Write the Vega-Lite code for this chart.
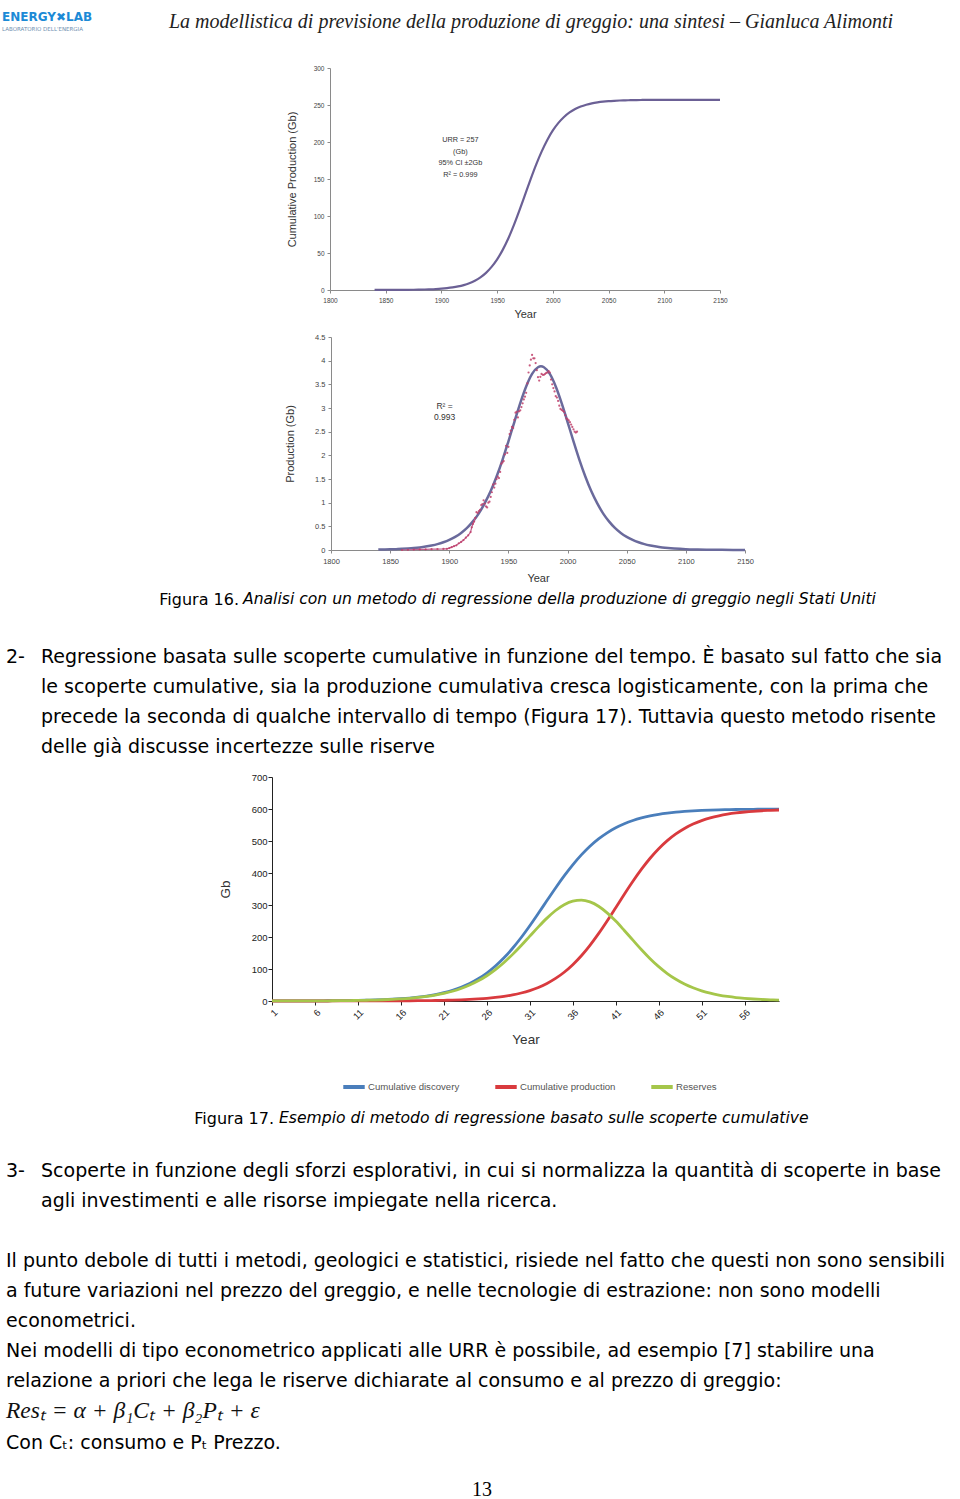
{
  "$schema": "https://vega.github.io/schema/vega-lite/v6.json",
  "background": "white",
  "padding": 0,
  "config": {
    "view": {"stroke": "transparent", "fill": "transparent"},
    "title": {"offset": 0, "frame": "group", "fontWeight": "normal", "color": "#000000"},
    "font": "Liberation Sans"
  },
  "datasets": {
    "cum": [
      {"year": 1840, "cum": 0.04}, {"year": 1845, "cum": 0.05}, {"year": 1850, "cum": 0.07}, {"year": 1855, "cum": 0.09},
      {"year": 1860, "cum": 0.13}, {"year": 1865, "cum": 0.18}, {"year": 1870, "cum": 0.25}, {"year": 1875, "cum": 0.35},
      {"year": 1880, "cum": 0.49}, {"year": 1885, "cum": 0.68}, {"year": 1890, "cum": 0.94}, {"year": 1895, "cum": 1.3},
      {"year": 1900, "cum": 1.81}, {"year": 1905, "cum": 2.51}, {"year": 1910, "cum": 3.47}, {"year": 1915, "cum": 4.8},
      {"year": 1920, "cum": 6.64}, {"year": 1925, "cum": 9.15}, {"year": 1930, "cum": 12.5}, {"year": 1935, "cum": 17.1},
      {"year": 1940, "cum": 23.2}, {"year": 1945, "cum": 31.2}, {"year": 1950, "cum": 41.4}, {"year": 1955, "cum": 54.2},
      {"year": 1960, "cum": 69.6}, {"year": 1965, "cum": 87.6}, {"year": 1970, "cum": 107.5}, {"year": 1975, "cum": 128.5},
      {"year": 1980, "cum": 149.5}, {"year": 1985, "cum": 169.4}, {"year": 1990, "cum": 187.3}, {"year": 1995, "cum": 202.8},
      {"year": 2000, "cum": 215.6}, {"year": 2005, "cum": 225.8}, {"year": 2010, "cum": 233.8}, {"year": 2015, "cum": 239.9},
      {"year": 2020, "cum": 244.5}, {"year": 2025, "cum": 247.9}, {"year": 2030, "cum": 250.4}, {"year": 2035, "cum": 252.2},
      {"year": 2040, "cum": 253.5}, {"year": 2045, "cum": 254.5}, {"year": 2050, "cum": 255.2}, {"year": 2055, "cum": 255.7},
      {"year": 2060, "cum": 256.1}, {"year": 2065, "cum": 256.3}, {"year": 2070, "cum": 256.5}, {"year": 2075, "cum": 256.7},
      {"year": 2080, "cum": 256.8}, {"year": 2090, "cum": 256.9}, {"year": 2100, "cum": 256.9}, {"year": 2110, "cum": 257.0},
      {"year": 2125, "cum": 257.0}, {"year": 2150, "cum": 257.0}
    ],
    "fit": [
      {"year": 1840, "prod": 0.008}, {"year": 1845, "prod": 0.011}, {"year": 1850, "prod": 0.014}, {"year": 1855, "prod": 0.018},
      {"year": 1860, "prod": 0.024}, {"year": 1865, "prod": 0.032}, {"year": 1870, "prod": 0.042}, {"year": 1875, "prod": 0.055},
      {"year": 1880, "prod": 0.072}, {"year": 1885, "prod": 0.095}, {"year": 1890, "prod": 0.124}, {"year": 1895, "prod": 0.163},
      {"year": 1900, "prod": 0.213}, {"year": 1905, "prod": 0.278}, {"year": 1910, "prod": 0.361}, {"year": 1915, "prod": 0.468},
      {"year": 1920, "prod": 0.605}, {"year": 1925, "prod": 0.775}, {"year": 1930, "prod": 0.989}, {"year": 1935, "prod": 1.245},
      {"year": 1940, "prod": 1.554}, {"year": 1945, "prod": 1.905}, {"year": 1950, "prod": 2.297}, {"year": 1955, "prod": 2.704},
      {"year": 1960, "prod": 3.104}, {"year": 1965, "prod": 3.456}, {"year": 1970, "prod": 3.72}, {"year": 1975, "prod": 3.861},
      {"year": 1977.5, "prod": 3.88}, {"year": 1980, "prod": 3.861}, {"year": 1985, "prod": 3.72}, {"year": 1990, "prod": 3.456},
      {"year": 1995, "prod": 3.104}, {"year": 2000, "prod": 2.704}, {"year": 2005, "prod": 2.297}, {"year": 2010, "prod": 1.905},
      {"year": 2015, "prod": 1.554}, {"year": 2020, "prod": 1.245}, {"year": 2025, "prod": 0.989}, {"year": 2030, "prod": 0.775},
      {"year": 2035, "prod": 0.605}, {"year": 2040, "prod": 0.468}, {"year": 2045, "prod": 0.361}, {"year": 2050, "prod": 0.278},
      {"year": 2055, "prod": 0.213}, {"year": 2060, "prod": 0.163}, {"year": 2065, "prod": 0.124}, {"year": 2070, "prod": 0.095},
      {"year": 2075, "prod": 0.072}, {"year": 2080, "prod": 0.055}, {"year": 2085, "prod": 0.042}, {"year": 2090, "prod": 0.032},
      {"year": 2095, "prod": 0.024}, {"year": 2100, "prod": 0.018}, {"year": 2110, "prod": 0.011}, {"year": 2120, "prod": 0.006},
      {"year": 2130, "prod": 0.004}, {"year": 2140, "prod": 0.002}, {"year": 2150, "prod": 0.001}
    ],
    "obs": [
      {"year": 1860, "prod": 0.0}, {"year": 1865, "prod": 0.005}, {"year": 1870, "prod": 0.01}, {"year": 1875, "prod": 0.012},
      {"year": 1880, "prod": 0.015}, {"year": 1885, "prod": 0.018}, {"year": 1890, "prod": 0.02}, {"year": 1895, "prod": 0.022},
      {"year": 1898, "prod": 0.025}, {"year": 1900, "prod": 0.04}, {"year": 1902, "prod": 0.06}, {"year": 1904, "prod": 0.08},
      {"year": 1906, "prod": 0.1}, {"year": 1908, "prod": 0.14}, {"year": 1910, "prod": 0.17}, {"year": 1912, "prod": 0.21},
      {"year": 1914, "prod": 0.26}, {"year": 1916, "prod": 0.31}, {"year": 1918, "prod": 0.38}, {"year": 1919, "prod": 0.48},
      {"year": 1920, "prod": 0.55}, {"year": 1921, "prod": 0.6}, {"year": 1922, "prod": 0.68}, {"year": 1923, "prod": 0.8},
      {"year": 1924, "prod": 0.78}, {"year": 1925, "prod": 0.82}, {"year": 1926, "prod": 0.85}, {"year": 1927, "prod": 0.95},
      {"year": 1928, "prod": 0.97}, {"year": 1929, "prod": 1.05}, {"year": 1930, "prod": 0.98}, {"year": 1931, "prod": 0.92},
      {"year": 1932, "prod": 0.9}, {"year": 1933, "prod": 1.0}, {"year": 1934, "prod": 1.02}, {"year": 1935, "prod": 1.12},
      {"year": 1936, "prod": 1.22}, {"year": 1937, "prod": 1.38}, {"year": 1938, "prod": 1.32}, {"year": 1939, "prod": 1.4},
      {"year": 1940, "prod": 1.5}, {"year": 1941, "prod": 1.55}, {"year": 1942, "prod": 1.52}, {"year": 1943, "prod": 1.65},
      {"year": 1944, "prod": 1.82}, {"year": 1945, "prod": 1.85}, {"year": 1946, "prod": 1.88}, {"year": 1947, "prod": 2.02},
      {"year": 1948, "prod": 2.2}, {"year": 1949, "prod": 2.05}, {"year": 1950, "prod": 2.18}, {"year": 1951, "prod": 2.45},
      {"year": 1952, "prod": 2.52}, {"year": 1953, "prod": 2.6}, {"year": 1954, "prod": 2.58}, {"year": 1955, "prod": 2.75},
      {"year": 1956, "prod": 2.9}, {"year": 1957, "prod": 2.92}, {"year": 1958, "prod": 2.8}, {"year": 1959, "prod": 2.93},
      {"year": 1960, "prod": 2.95}, {"year": 1961, "prod": 3.02}, {"year": 1962, "prod": 3.1}, {"year": 1963, "prod": 3.18},
      {"year": 1964, "prod": 3.24}, {"year": 1965, "prod": 3.32}, {"year": 1966, "prod": 3.52}, {"year": 1967, "prod": 3.75},
      {"year": 1968, "prod": 3.9}, {"year": 1969, "prod": 4.02}, {"year": 1970, "prod": 4.12}, {"year": 1971, "prod": 4.05},
      {"year": 1972, "prod": 4.05}, {"year": 1973, "prod": 3.95}, {"year": 1974, "prod": 3.8}, {"year": 1975, "prod": 3.65},
      {"year": 1976, "prod": 3.58}, {"year": 1977, "prod": 3.66}, {"year": 1978, "prod": 3.72}, {"year": 1979, "prod": 3.7},
      {"year": 1980, "prod": 3.7}, {"year": 1981, "prod": 3.72}, {"year": 1982, "prod": 3.74}, {"year": 1983, "prod": 3.75},
      {"year": 1984, "prod": 3.78}, {"year": 1985, "prod": 3.75}, {"year": 1986, "prod": 3.6}, {"year": 1987, "prod": 3.5},
      {"year": 1988, "prod": 3.42}, {"year": 1989, "prod": 3.35}, {"year": 1990, "prod": 3.25}, {"year": 1991, "prod": 3.22},
      {"year": 1992, "prod": 3.15}, {"year": 1993, "prod": 3.05}, {"year": 1994, "prod": 2.98}, {"year": 1995, "prod": 2.96},
      {"year": 1996, "prod": 2.94}, {"year": 1997, "prod": 2.92}, {"year": 1998, "prod": 2.85}, {"year": 1999, "prod": 2.78},
      {"year": 2000, "prod": 2.76}, {"year": 2001, "prod": 2.74}, {"year": 2002, "prod": 2.7}, {"year": 2003, "prod": 2.65},
      {"year": 2004, "prod": 2.6}, {"year": 2005, "prod": 2.55}, {"year": 2006, "prod": 2.5}, {"year": 2007, "prod": 2.48},
      {"year": 2008, "prod": 2.5}
    ],
    "disc": [
      {"t": 1, "Cumulative discovery": 0.1, "Cumulative production": 0.0, "Reserves": 0.1},
      {"t": 2, "Cumulative discovery": 0.2, "Cumulative production": 0.0, "Reserves": 0.2},
      {"t": 3, "Cumulative discovery": 0.2, "Cumulative production": 0.0, "Reserves": 0.2},
      {"t": 4, "Cumulative discovery": 0.3, "Cumulative production": 0.0, "Reserves": 0.3},
      {"t": 5, "Cumulative discovery": 0.4, "Cumulative production": 0.0, "Reserves": 0.4},
      {"t": 6, "Cumulative discovery": 0.5, "Cumulative production": 0.0, "Reserves": 0.5},
      {"t": 7, "Cumulative discovery": 0.7, "Cumulative production": 0.0, "Reserves": 0.6},
      {"t": 8, "Cumulative discovery": 0.9, "Cumulative production": 0.1, "Reserves": 0.8},
      {"t": 9, "Cumulative discovery": 1.1, "Cumulative production": 0.1, "Reserves": 1.0},
      {"t": 10, "Cumulative discovery": 1.4, "Cumulative production": 0.1, "Reserves": 1.4},
      {"t": 11, "Cumulative discovery": 1.9, "Cumulative production": 0.1, "Reserves": 1.8},
      {"t": 12, "Cumulative discovery": 2.5, "Cumulative production": 0.2, "Reserves": 2.3},
      {"t": 13, "Cumulative discovery": 3.2, "Cumulative production": 0.2, "Reserves": 3.0},
      {"t": 14, "Cumulative discovery": 4.2, "Cumulative production": 0.3, "Reserves": 3.9},
      {"t": 15, "Cumulative discovery": 5.4, "Cumulative production": 0.4, "Reserves": 5.0},
      {"t": 16, "Cumulative discovery": 7.1, "Cumulative production": 0.5, "Reserves": 6.6},
      {"t": 17, "Cumulative discovery": 9.2, "Cumulative production": 0.7, "Reserves": 8.5},
      {"t": 18, "Cumulative discovery": 12.0, "Cumulative production": 0.9, "Reserves": 11.1},
      {"t": 19, "Cumulative discovery": 15.5, "Cumulative production": 1.2, "Reserves": 14.3},
      {"t": 20, "Cumulative discovery": 20.1, "Cumulative production": 1.6, "Reserves": 18.5},
      {"t": 21, "Cumulative discovery": 25.9, "Cumulative production": 2.1, "Reserves": 23.8},
      {"t": 22, "Cumulative discovery": 33.3, "Cumulative production": 2.8, "Reserves": 30.5},
      {"t": 23, "Cumulative discovery": 42.8, "Cumulative production": 3.7, "Reserves": 39.1},
      {"t": 24, "Cumulative discovery": 54.6, "Cumulative production": 4.8, "Reserves": 49.8},
      {"t": 25, "Cumulative discovery": 69.4, "Cumulative production": 6.4, "Reserves": 63.0},
      {"t": 26, "Cumulative discovery": 87.4, "Cumulative production": 8.4, "Reserves": 79.0},
      {"t": 27, "Cumulative discovery": 109.2, "Cumulative production": 11.1, "Reserves": 98.1},
      {"t": 28, "Cumulative discovery": 135.0, "Cumulative production": 14.5, "Reserves": 120.5},
      {"t": 29, "Cumulative discovery": 164.8, "Cumulative production": 19.1, "Reserves": 145.7},
      {"t": 30, "Cumulative discovery": 198.4, "Cumulative production": 25.0, "Reserves": 173.4},
      {"t": 31, "Cumulative discovery": 235.2, "Cumulative production": 32.6, "Reserves": 202.6},
      {"t": 32, "Cumulative discovery": 274.1, "Cumulative production": 42.4, "Reserves": 231.7},
      {"t": 33, "Cumulative discovery": 313.9, "Cumulative production": 54.9, "Reserves": 259.0},
      {"t": 34, "Cumulative discovery": 353.3, "Cumulative production": 70.5, "Reserves": 282.8},
      {"t": 35, "Cumulative discovery": 390.8, "Cumulative production": 89.9, "Reserves": 300.9},
      {"t": 36, "Cumulative discovery": 425.5, "Cumulative production": 113.4, "Reserves": 312.1},
      {"t": 37, "Cumulative discovery": 456.5, "Cumulative production": 141.4, "Reserves": 315.1},
      {"t": 38, "Cumulative discovery": 483.5, "Cumulative production": 173.9, "Reserves": 309.6},
      {"t": 39, "Cumulative discovery": 506.5, "Cumulative production": 210.4, "Reserves": 296.1},
      {"t": 40, "Cumulative discovery": 525.6, "Cumulative production": 250.1, "Reserves": 275.5},
      {"t": 41, "Cumulative discovery": 541.3, "Cumulative production": 291.6, "Reserves": 249.7},
      {"t": 42, "Cumulative discovery": 553.9, "Cumulative production": 333.5, "Reserves": 220.4},
      {"t": 43, "Cumulative discovery": 564.1, "Cumulative production": 374.0, "Reserves": 190.1},
      {"t": 44, "Cumulative discovery": 572.1, "Cumulative production": 411.9, "Reserves": 160.2},
      {"t": 45, "Cumulative discovery": 578.4, "Cumulative production": 446.1, "Reserves": 132.3},
      {"t": 46, "Cumulative discovery": 583.3, "Cumulative production": 475.9, "Reserves": 107.4},
      {"t": 47, "Cumulative discovery": 587.1, "Cumulative production": 501.2, "Reserves": 85.9},
      {"t": 48, "Cumulative discovery": 590.1, "Cumulative production": 522.2, "Reserves": 67.9},
      {"t": 49, "Cumulative discovery": 592.3, "Cumulative production": 539.3, "Reserves": 53.0},
      {"t": 50, "Cumulative discovery": 594.1, "Cumulative production": 552.9, "Reserves": 41.2},
      {"t": 51, "Cumulative discovery": 595.5, "Cumulative production": 563.7, "Reserves": 31.8},
      {"t": 52, "Cumulative discovery": 596.5, "Cumulative production": 572.2, "Reserves": 24.3},
      {"t": 53, "Cumulative discovery": 597.3, "Cumulative production": 578.7, "Reserves": 18.6},
      {"t": 54, "Cumulative discovery": 598.0, "Cumulative production": 583.8, "Reserves": 14.2},
      {"t": 55, "Cumulative discovery": 598.4, "Cumulative production": 587.7, "Reserves": 10.7},
      {"t": 56, "Cumulative discovery": 598.8, "Cumulative production": 590.6, "Reserves": 8.2},
      {"t": 57, "Cumulative discovery": 599.1, "Cumulative production": 592.9, "Reserves": 6.2},
      {"t": 58, "Cumulative discovery": 599.3, "Cumulative production": 594.6, "Reserves": 4.7},
      {"t": 59, "Cumulative discovery": 599.5, "Cumulative production": 595.9, "Reserves": 3.6},
      {"t": 60, "Cumulative discovery": 599.6, "Cumulative production": 596.9, "Reserves": 2.7}
    ]
  },
  "spacing": 0,
  "bounds": "full",
  "vconcat": [
    {
      "spacing": 0, "bounds": "flush",
      "hconcat": [
        {"width": 118, "height": 64, "data": {"values": []}, "mark": {"type": "point", "opacity": 0},
         "title": {"text": "ENERGY✖LAB", "subtitle": "LABORATORIO DELL'ENERGIA", "anchor": "start", "dx": 2, "offset": -33,
                   "font": "DejaVu Sans", "fontSize": 12, "fontWeight": "bold", "color": "#1c8ad6",
                   "subtitleFont": "DejaVu Sans", "subtitleFontSize": 5.5, "subtitleColor": "#6f8fb0", "subtitlePadding": 3}},
        {"width": 775, "height": 64, "data": {"values": []}, "mark": {"type": "point", "opacity": 0},
         "title": {"text": "La modellistica di previsione della produzione di greggio: una sintesi  –  Gianluca Alimonti",
                   "anchor": "end", "offset": -32, "font": "Liberation Serif", "fontStyle": "italic", "fontSize": 20, "color": "#222222"}}
      ]
    },
    {
      "spacing": 0, "bounds": "flush",
      "hconcat": [
        {"width": 330, "height": 264, "data": {"values": []}, "mark": {"type": "point", "opacity": 0}},
        {
          "width": 390, "height": 222,
          "layer": [
            {
              "data": {"name": "cum"},
              "mark": {"type": "line", "color": "#6b6095", "strokeWidth": 2.2, "interpolate": "monotone"},
              "encoding": {
                "x": {"field": "year", "type": "quantitative", "scale": {"domain": [1800, 2150], "nice": false, "zero": false},
                      "axis": {"values": [1800, 1850, 1900, 1950, 2000, 2050, 2100, 2150], "format": "d", "title": "Year", "grid": false,
                               "domainColor": "#8a8a8a", "tickColor": "#8a8a8a", "tickSize": 3, "labelFontSize": 6.5, "labelColor": "#444444",
                               "labelPadding": 4, "labelFlush": false, "labelOverlap": false, "titleFontSize": 11, "titleFontWeight": "normal",
                               "titleColor": "#333333", "titlePadding": 5}},
                "y": {"field": "cum", "type": "quantitative", "scale": {"domain": [0, 300], "nice": false},
                      "axis": {"values": [0, 50, 100, 150, 200, 250, 300], "title": "Cumulative Production (Gb)", "grid": false,
                               "domainColor": "#8a8a8a", "tickColor": "#8a8a8a", "tickSize": 3, "labelFontSize": 6.5, "labelColor": "#444444",
                               "labelPadding": 3, "labelFlush": false, "labelOverlap": false, "titleFontSize": 11, "titleFontWeight": "normal",
                               "titleColor": "#333333", "titlePadding": 16}}
              }
            },
            {
              "data": {"values": [{}]},
              "mark": {"type": "text", "fontSize": 7.3, "color": "#333333", "lineHeight": 11.5, "baseline": "top",
                       "text": ["URR = 257", "(Gb)", "95% CI ±2Gb", "R² = 0.999"]},
              "encoding": {
                "x": {"datum": 1917, "type": "quantitative",
                      "axis": {"values": [1800, 1850, 1900, 1950, 2000, 2050, 2100, 2150], "format": "d", "title": "Year", "grid": false,
                               "domainColor": "#8a8a8a", "tickColor": "#8a8a8a", "tickSize": 3, "labelFontSize": 6.5, "labelColor": "#444444",
                               "labelPadding": 4, "labelFlush": false, "labelOverlap": false, "titleFontSize": 11, "titleFontWeight": "normal",
                               "titleColor": "#333333", "titlePadding": 5}},
                "y": {"datum": 208, "type": "quantitative",
                      "axis": {"values": [0, 50, 100, 150, 200, 250, 300], "title": "Cumulative Production (Gb)", "grid": false,
                               "domainColor": "#8a8a8a", "tickColor": "#8a8a8a", "tickSize": 3, "labelFontSize": 6.5, "labelColor": "#444444",
                               "labelPadding": 3, "labelFlush": false, "labelOverlap": false, "titleFontSize": 11, "titleFontWeight": "normal",
                               "titleColor": "#333333", "titlePadding": 16}}
              }
            }
          ]
        }
      ]
    },
    {
      "spacing": 0, "bounds": "flush",
      "hconcat": [
        {"width": 331, "height": 248, "data": {"values": []}, "mark": {"type": "point", "opacity": 0}},
        {
          "width": 414, "height": 213,
          "encoding": {
            "x": {"field": "year", "type": "quantitative", "scale": {"domain": [1800, 2150], "nice": false, "zero": false},
                  "axis": {"values": [1800, 1850, 1900, 1950, 2000, 2050, 2100, 2150], "format": "d", "title": "Year", "grid": false,
                           "domainColor": "#8a8a8a", "tickColor": "#8a8a8a", "tickSize": 3, "labelFontSize": 7.5, "labelColor": "#444444",
                           "labelPadding": 4, "labelFlush": false, "labelOverlap": false, "titleFontSize": 11, "titleFontWeight": "normal",
                           "titleColor": "#333333", "titlePadding": 8}},
            "y": {"field": "prod", "type": "quantitative", "scale": {"domain": [0, 4.5], "nice": false},
                  "axis": {"values": [0, 0.5, 1, 1.5, 2, 2.5, 3, 3.5, 4, 4.5], "format": "~g", "title": "Production (Gb)", "grid": false,
                           "domainColor": "#8a8a8a", "tickColor": "#8a8a8a", "tickSize": 3, "labelFontSize": 7.5, "labelColor": "#444444",
                           "labelPadding": 3, "labelFlush": false, "labelOverlap": false, "titleFontSize": 11, "titleFontWeight": "normal",
                           "titleColor": "#333333", "titlePadding": 19}}
          },
          "layer": [
            {
              "data": {"name": "fit"},
              "mark": {"type": "line", "color": "#6a6a9c", "strokeWidth": 2.5, "interpolate": "monotone"}
            },
            {
              "data": {"name": "obs"},
              "transform": [{"filter": "datum.year <= 1922"}],
              "mark": {"type": "line", "color": "#c2608e", "strokeWidth": 1.2}
            },
            {
              "data": {"name": "obs"},
              "mark": {"type": "point", "shape": "circle", "filled": true, "size": 5, "color": "#c0406a", "opacity": 0.85}
            },
            {
              "data": {"values": [{"year": 1896, "prod": 3.12}]},
              "mark": {"type": "text", "fontSize": 8.5, "color": "#333333", "lineHeight": 11, "baseline": "top",
                       "text": ["R² =", "0.993"]}
            }
          ]
        }
      ]
    },
    {
      "spacing": 0, "bounds": "flush",
      "hconcat": [
        {"width": 239, "height": 30, "data": {"values": []}, "mark": {"type": "point", "opacity": 0},
         "title": {"text": "Figura 16.", "anchor": "end", "offset": -23, "font": "DejaVu Sans", "fontSize": 16}},
        {"width": 640, "height": 30, "data": {"values": []}, "mark": {"type": "point", "opacity": 0},
         "title": {"text": "Analisi con un metodo di regressione della produzione di greggio negli Stati Uniti", "anchor": "start", "dx": 4,
                   "offset": -23, "font": "DejaVu Sans", "fontStyle": "italic", "fontSize": 15.6}}
      ]
    },
    {
      "spacing": 0, "bounds": "flush",
      "hconcat": [
        {"width": 41, "height": 156, "data": {"values": []}, "mark": {"type": "point", "opacity": 0},
         "title": {"text": "2-", "anchor": "start", "dx": 6, "offset": -52, "font": "DejaVu Sans", "fontSize": 19}},
        {"width": 917, "height": 156, "data": {"values": []}, "mark": {"type": "point", "opacity": 0},
         "title": {"text": [
                     "Regressione basata sulle scoperte cumulative in funzione del tempo. È basato sul fatto che sia",
                     "le scoperte cumulative, sia la produzione cumulativa cresca logisticamente, con la prima che",
                     "precede la seconda di qualche intervallo di tempo (Figura 17). Tuttavia questo metodo risente",
                     "delle già discusse incertezze sulle riserve"],
                   "anchor": "start", "offset": -142, "font": "DejaVu Sans", "fontSize": 19, "lineHeight": 30}}
      ]
    },
    {
      "spacing": 0, "bounds": "flush",
      "resolve": {"scale": {"color": "independent"}, "legend": {"color": "independent"}},
      "hconcat": [
        {"width": 272, "height": 325, "data": {"values": []}, "mark": {"type": "point", "opacity": 0}},
        {
          "width": 507, "height": 224,
          "data": {"name": "disc"},
          "transform": [{"fold": ["Cumulative discovery", "Cumulative production", "Reserves"], "as": ["series", "value"]}],
          "mark": {"type": "line", "strokeWidth": 2.8, "interpolate": "monotone"},
          "encoding": {
            "x": {"field": "t", "type": "quantitative", "scale": {"domain": [1, 60], "nice": false, "zero": false},
                  "axis": {"values": [1, 6, 11, 16, 21, 26, 31, 36, 41, 46, 51, 56], "title": "Year", "grid": false, "labelAngle": -45,
                           "domainColor": "#222222", "tickColor": "#222222", "tickSize": 4, "labelFontSize": 9.5, "labelColor": "#222222",
                           "labelPadding": 2, "labelFlush": false, "labelOverlap": false, "titleFontSize": 13.5, "titleFontWeight": "normal",
                           "titleColor": "#333333", "titlePadding": 11}},
            "y": {"field": "value", "type": "quantitative", "scale": {"domain": [0, 700], "nice": false},
                  "axis": {"values": [0, 100, 200, 300, 400, 500, 600, 700], "title": "Gb", "grid": false,
                           "domainColor": "#222222", "tickColor": "#222222", "tickSize": 4, "labelFontSize": 9.5, "labelColor": "#222222",
                           "labelPadding": 1, "labelFlush": false, "labelOverlap": false, "titleFontSize": 13.5, "titleFontWeight": "normal",
                           "titleColor": "#333333", "titlePadding": 19}},
            "color": {"field": "series", "type": "nominal",
                      "scale": {"domain": ["Cumulative discovery", "Cumulative production", "Reserves"], "range": ["#4a7ebb", "#d93a3e", "#a5c64a"]},
                      "legend": {"orient": "none", "legendX": 69, "legendY": 297, "direction": "horizontal", "title": null, "padding": 0,
                                 "symbolType": "stroke", "symbolStrokeWidth": 4, "symbolSize": 460, "labelFontSize": 9.6,
                                 "labelColor": "#555555", "labelOffset": 1, "columnPadding": 27}}
          }
        }
      ]
    },
    {
      "spacing": 0, "bounds": "flush",
      "hconcat": [
        {"width": 274, "height": 40, "data": {"values": []}, "mark": {"type": "point", "opacity": 0},
         "title": {"text": "Figura 17.", "anchor": "end", "offset": -25, "font": "DejaVu Sans", "fontSize": 16}},
        {"width": 600, "height": 40, "data": {"values": []}, "mark": {"type": "point", "opacity": 0},
         "title": {"text": "Esempio di metodo di regressione basato sulle scoperte cumulative", "anchor": "start", "dx": 5,
                   "offset": -25, "font": "DejaVu Sans", "fontStyle": "italic", "fontSize": 15.6}}
      ]
    },
    {
      "spacing": 0, "bounds": "flush",
      "hconcat": [
        {"width": 41, "height": 90, "data": {"values": []}, "mark": {"type": "point", "opacity": 0},
         "title": {"text": "3-", "anchor": "start", "dx": 6, "offset": -39, "font": "DejaVu Sans", "fontSize": 19}},
        {"width": 917, "height": 90, "data": {"values": []}, "mark": {"type": "point", "opacity": 0},
         "title": {"text": [
                     "Scoperte in funzione degli sforzi esplorativi, in cui si normalizza la quantità di scoperte in base",
                     "agli investimenti e alle risorse impiegate nella ricerca."],
                   "anchor": "start", "offset": -69, "font": "DejaVu Sans", "fontSize": 19, "lineHeight": 30}}
      ]
    },
    {"width": 958, "height": 195, "data": {"values": []}, "mark": {"type": "point", "opacity": 0},
     "title": {"text": [
                 "Il punto debole di tutti i metodi, geologici e statistici, risiede nel fatto che questi non sono sensibili",
                 "a future variazioni nel prezzo del greggio, e nelle tecnologie di estrazione: non sono modelli",
                 "econometrici.",
                 "Nei modelli di tipo econometrico applicati alle URR è possibile, ad esempio [7] stabilire una",
                 "relazione a priori che lega le riserve dichiarate al consumo e al prezzo di greggio:"],
               "subtitle": "Resₜ = α + β₁Cₜ + β₂Pₜ + ε",
               "anchor": "start", "dx": 6, "offset": -190, "font": "DejaVu Sans", "fontSize": 19, "lineHeight": 30,
               "subtitleFont": "Liberation Serif", "subtitleFontStyle": "italic", "subtitleFontSize": 23.5, "subtitleColor": "#111111",
               "subtitlePadding": 7.5}},
    {"width": 958, "height": 40, "data": {"values": []}, "mark": {"type": "point", "opacity": 0},
     "title": {"text": "Con Cₜ: consumo e Pₜ Prezzo.", "anchor": "start", "dx": 6, "offset": -26, "font": "DejaVu Sans", "fontSize": 19}},
    {"width": 952, "height": 34, "data": {"values": []}, "mark": {"type": "point", "opacity": 0},
     "title": {"text": "13", "anchor": "middle", "dx": 6, "offset": -33, "font": "Liberation Serif", "fontSize": 20}}
  ]
}
